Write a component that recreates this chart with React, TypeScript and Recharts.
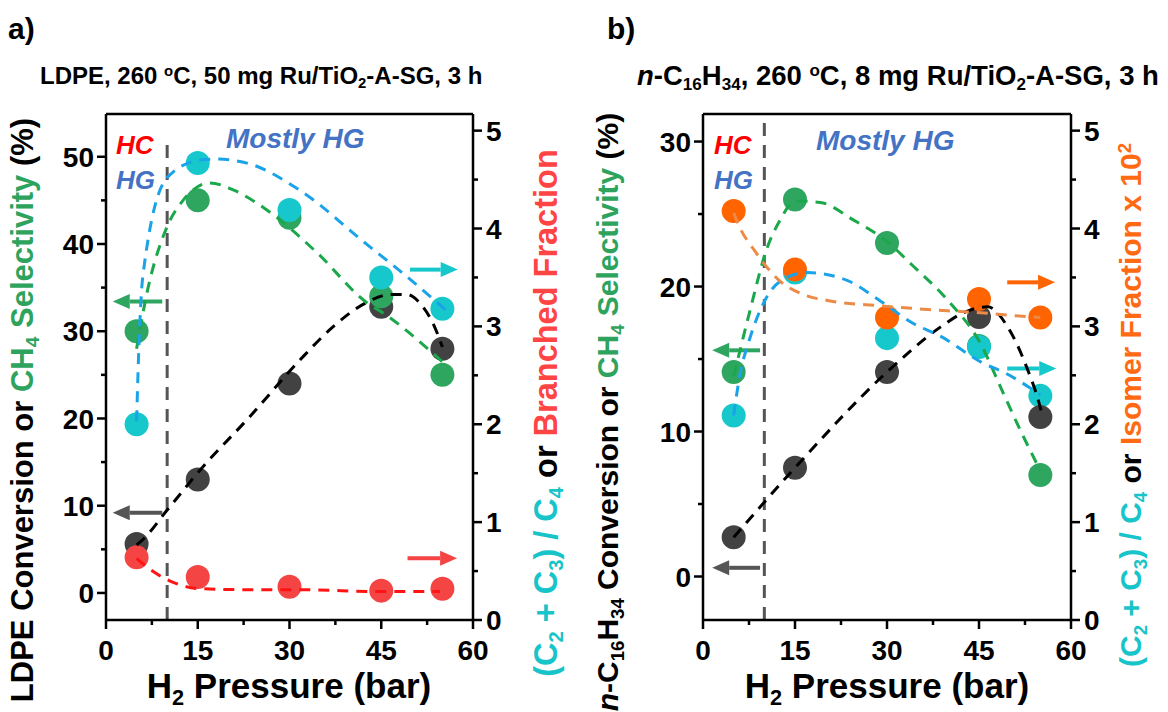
import React from 'react';
import { ComposedChart, XAxis, YAxis, Line, ReferenceLine } from 'recharts';

// ---------- shared ----------
const pressures = [5, 15, 30, 45, 55];
const xTicks = [0, 7.5, 15, 22.5, 30, 37.5, 45, 52.5, 60];
const rightTicks = [0, 0.5, 1, 1.5, 2, 2.5, 3, 3.5, 4, 4.5, 5];

// ---------- panel a (LDPE) ----------
const aConversion = [5.6, 13, 24, 32.8, 28];
const aCH4Selectivity = [30, 45, 43, 34, 25];
const aC2C3overC4 = [2.0, 4.67, 4.19, 3.5, 3.18];
const aBranchedFraction = [0.64, 0.44, 0.34, 0.3, 0.32];

const aConvFitX = [5, 6, 10, 15.4, 23.5, 31.7, 37.1, 42.6, 46.4, 49.2, 51.8, 53.4, 55];
const aConvFitY = [5.5, 6.1, 9.5, 14.1, 20.2, 26.7, 30.5, 33.3, 34.2, 34.2, 32.8, 31, 28.2];
const aCH4FitX = [5, 6.7, 10, 12.6, 17, 20.8, 26.3, 34.5, 42.6, 45.3, 53.4, 55];
const aCH4FitY = [28, 34.4, 42, 45, 47, 46.2, 43.9, 39, 33.3, 32.1, 27.5, 26.5];
const aC2FitX = [5, 5.5, 6, 10, 15.4, 18, 23.5, 31.7, 42.6, 48, 55.7];
const aC2FitY = [2.03, 2.99, 3.5, 4.52, 4.7, 4.71, 4.66, 4.39, 3.84, 3.57, 3.16];
const aBrFitX = [5, 7.6, 10.4, 15.4, 23.5, 31.7, 45.3, 54.6];
const aBrFitY = [0.63, 0.5, 0.4, 0.32, 0.31, 0.31, 0.29, 0.29];
const aLeftTicks = [0, 5, 10, 15, 20, 25, 30, 35, 40, 45, 50];

// ---------- panel b (n-C16H34) ----------
const bConversion = [2.7, 7.5, 14.1, 17.9, 11];
const bCH4Selectivity = [14.1, 26, 23, 15.9, 7];
const bC2C3overC4 = [2.09, 3.55, 2.88, 2.79, 2.29];
const bIsomerFraction = [4.18, 3.58, 3.09, 3.28, 3.09];

const bConvFitX = [5, 15, 30, 38.7, 42.5, 46.4, 49.7, 52.9, 54.5, 55.4];
const bConvFitY = [2.7, 7.5, 14.1, 17.2, 18.2, 18.6, 17.2, 14.3, 12.4, 11];
const bCH4FitX = [5, 7.7, 10.4, 12.6, 15, 19.1, 24.5, 30, 34.3, 39.8, 45.2, 48.9, 51.5, 55];
const bCH4FitY = [13.8, 18.4, 22.6, 24.6, 25.9, 25.8, 24.6, 23.1, 21.4, 19.1, 16.1, 12.7, 10.3, 7.3];
const bC2FitX = [5, 6, 7.5, 10.4, 13.7, 17, 23.5, 28.9, 34.3, 38.7, 45.5, 49.4, 55];
const bC2FitY = [2.09, 2.5, 2.85, 3.3, 3.5, 3.55, 3.47, 3.26, 3.03, 2.9, 2.63, 2.52, 2.3];
const bIsoFitX = [5, 5.5, 8.8, 12.6, 15.8, 20.7, 28.9, 39.8, 45.2, 50.6, 55];
const bIsoFitY = [4.16, 4.08, 3.74, 3.46, 3.34, 3.26, 3.21, 3.16, 3.14, 3.11, 3.09];
const bLeftTicks = [0, 5, 10, 15, 20, 25, 30];

// ---------- helpers ----------
const FONT = "'Liberation Sans', Arial, Helvetica, sans-serif";
const pts = (xs: number[], ys: number[]) => xs.map((x, i) => ({ x, y: ys[i] }));

const C = {
  dotBlack: '#424242',
  dotGreen: '#2fa660',
  dotCyan: '#16c8cc',
  dotRed: '#f44444',
  dotOrange: '#ff6400',
  fitCyan: '#1aa3e8',
  fitGreen: '#1aa84a',
  fitRed: '#ff1414',
  fitOrange: '#ec8a48',
  gray: '#555555',
  tGreen: '#2ea35e',
  tCyan: '#17c4c9',
  tRed: '#ff4444',
  tOrange: '#ff6a13',
  blue: '#4472c4',
};

const dotRenderer = (fill: string) => (p: any) => (
  <circle key={'d' + p.index} cx={p.cx} cy={p.cy} r={12} fill={fill} />
);

const arrowShape = (color: string) => (p: any) => {
  const { x1, y1, x2, y2 } = p;
  const dir = x2 > x1 ? 1 : -1;
  const head = 17;
  const half = 7.5;
  return (
    <g>
      <line x1={x1} y1={y1} x2={x2 - dir * head} y2={y2} stroke={color} strokeWidth={4} />
      <polygon
        points={`${x2},${y2} ${x2 - dir * head},${y2 - half} ${x2 - dir * head},${y2 + half}`}
        fill={color}
      />
    </g>
  );
};

const XTick = (p: any) => {
  const { x, y, payload } = p;
  const major = payload.value % 15 === 0;
  return (
    <g>
      <line x1={x} x2={x} y1={y} y2={y + (major ? 9 : 5)} stroke="#000" strokeWidth={2.5} />
      {major && (
        <text x={x} y={y + 40} textAnchor="middle" fontFamily={FONT} fontWeight="bold" fontSize={28} fill="#000">
          {payload.value}
        </text>
      )}
    </g>
  );
};

const LeftTick = (p: any) => {
  const { x, y, payload } = p;
  const major = payload.value % 10 === 0;
  return (
    <g>
      <line x1={x} x2={x - (major ? 9 : 5)} y1={y} y2={y} stroke="#000" strokeWidth={2.5} />
      {major && (
        <text x={x - 12} y={y} dy="0.36em" textAnchor="end" fontFamily={FONT} fontWeight="bold" fontSize={28} fill="#000">
          {payload.value}
        </text>
      )}
    </g>
  );
};

const RightTick = (p: any) => {
  const { x, y, payload } = p;
  const major = Number.isInteger(payload.value);
  return (
    <g>
      <line x1={x} x2={x + (major ? 9 : 5)} y1={y} y2={y} stroke="#000" strokeWidth={2.5} />
      {major && (
        <text x={x + 13} y={y} dy="0.36em" textAnchor="start" fontFamily={FONT} fontWeight="bold" fontSize={28} fill="#000">
          {payload.value}
        </text>
      )}
    </g>
  );
};

const axisLine = { stroke: '#000', strokeWidth: 2.5 };

const sub = (t: string) => (
  <span style={{ fontSize: '0.62em', position: 'relative', top: '0.3em' }}>{t}</span>
);
const sup = (t: string) => (
  <span style={{ fontSize: '0.62em', position: 'relative', top: '-0.55em' }}>{t}</span>
);

const abs = (left: number, top: number, extra: React.CSSProperties = {}): React.CSSProperties => ({
  position: 'absolute',
  left,
  top,
  whiteSpace: 'nowrap',
  fontFamily: FONT,
  fontWeight: 'bold',
  lineHeight: 1,
  ...extra,
});

const vtitle = (cx: number, cy: number, size: number): React.CSSProperties => ({
  position: 'absolute',
  left: cx,
  top: cy,
  transform: 'translate(-50%, -50%) rotate(-90deg)',
  whiteSpace: 'nowrap',
  fontFamily: FONT,
  fontWeight: 'bold',
  fontSize: size,
  lineHeight: 1,
  color: '#000',
});

// ---------- panel component ----------
type Series = { axis: string; data: { x: number; y: number }[]; color: string };
type PanelProps = {
  width: number;
  margin: { top: number; right: number; bottom: number; left: number };
  leftDomain: [number, number];
  leftTicks: number[];
  scatters: Series[];
  fits: Series[];
  vline: [number, number];
  arrows: { axis: string; from: [number, number]; to: [number, number]; color: string }[];
};

function Panel(props: PanelProps) {
  const { width, margin, leftDomain, leftTicks, scatters, fits, vline, arrows } = props;
  return (
    <ComposedChart width={width} height={712} margin={margin}>
      <XAxis
        type="number"
        dataKey="x"
        domain={[0, 60]}
        ticks={xTicks}
        interval={0}
        allowDataOverflow
        height={40}
        tickSize={0}
        tickMargin={0}
        tickLine={false}
        tick={XTick}
        axisLine={axisLine}
      />
      <YAxis
        yAxisId="left"
        orientation="left"
        type="number"
        dataKey="y"
        domain={leftDomain}
        ticks={leftTicks}
        interval={0}
        allowDataOverflow
        width={60}
        tickSize={0}
        tickMargin={0}
        tickLine={false}
        tick={LeftTick}
        axisLine={axisLine}
      />
      <YAxis
        yAxisId="right"
        orientation="right"
        type="number"
        dataKey="y"
        domain={[0, 5.17]}
        ticks={rightTicks}
        interval={0}
        allowDataOverflow
        width={60}
        tickSize={0}
        tickMargin={0}
        tickLine={false}
        tick={RightTick}
        axisLine={axisLine}
      />
      <ReferenceLine yAxisId="left" y={leftDomain[1]} stroke="#000" strokeWidth={2.5} ifOverflow="visible" />
      <ReferenceLine
        yAxisId="left"
        segment={[{ x: 10, y: vline[0] }, { x: 10, y: vline[1] }]}
        stroke={C.gray}
        strokeWidth={3}
        strokeDasharray="13 9"
        ifOverflow="visible"
      />
      {scatters.map((s, i) => (
        <Line
          key={'s' + i}
          yAxisId={s.axis}
          data={s.data}
          dataKey="y"
          stroke="none"
          dot={dotRenderer(s.color)}
          activeDot={false}
          isAnimationActive={false}
        />
      ))}
      {fits.map((f, i) => (
        <Line
          key={'f' + i}
          yAxisId={f.axis}
          data={f.data}
          dataKey="y"
          type="monotone"
          stroke={f.color}
          strokeWidth={3}
          strokeDasharray="11 8"
          dot={false}
          activeDot={false}
          isAnimationActive={false}
          zIndex={1500}
        />
      ))}
      {arrows.map((a, i) => (
        <ReferenceLine
          key={'a' + i}
          yAxisId={a.axis}
          segment={[{ x: a.from[0], y: a.from[1] }, { x: a.to[0], y: a.to[1] }]}
          stroke={a.color}
          shape={arrowShape(a.color)}
          ifOverflow="visible"
        />
      ))}
    </ComposedChart>
  );
}

export default function App() {
  return (
    <div style={{ position: 'absolute', left: 0, top: 0, width: 1168, height: 712, background: '#fff', overflow: 'hidden' }}>
      {/* Panel a */}
      <div style={{ position: 'absolute', left: 0, top: 0 }}>
        <Panel
          width={590}
          margin={{ top: 114, right: 57, bottom: 52, left: 46 }}
          leftDomain={[-3.1, 54.9]}
          leftTicks={aLeftTicks}
          vline={[-3.1, 51.6]}
          scatters={[
            { axis: 'left', data: pts(pressures, aConversion), color: C.dotBlack },
            { axis: 'left', data: pts(pressures, aCH4Selectivity), color: C.dotGreen },
            { axis: 'right', data: pts(pressures, aC2C3overC4), color: C.dotCyan },
            { axis: 'right', data: pts(pressures, aBranchedFraction), color: C.dotRed },
          ]}
          fits={[
            { axis: 'left', data: pts(aConvFitX, aConvFitY), color: '#000' },
            { axis: 'left', data: pts(aCH4FitX, aCH4FitY), color: C.fitGreen },
            { axis: 'right', data: pts(aC2FitX, aC2FitY), color: C.fitCyan },
            { axis: 'right', data: pts(aBrFitX, aBrFitY), color: C.fitRed },
          ]}
          arrows={[
            { axis: 'left', from: [9.2, 33.4], to: [1.1, 33.4], color: C.dotGreen },
            { axis: 'left', from: [9.2, 9.2], to: [1.1, 9.2], color: C.gray },
            { axis: 'right', from: [49.7, 3.58], to: [57.5, 3.58], color: C.dotCyan },
            { axis: 'right', from: [49.3, 0.63], to: [57.4, 0.63], color: C.dotRed },
          ]}
        />
      </div>
      {/* Panel b */}
      <div style={{ position: 'absolute', left: 590, top: 0 }}>
        <Panel
          width={578}
          margin={{ top: 114, right: 37, bottom: 52, left: 53 }}
          leftDomain={[-3.0, 31.9]}
          leftTicks={bLeftTicks}
          vline={[-3.0, 31.9]}
          scatters={[
            { axis: 'left', data: pts(pressures, bCH4Selectivity), color: C.dotGreen },
            { axis: 'right', data: pts(pressures, bC2C3overC4), color: C.dotCyan },
            { axis: 'left', data: pts(pressures, bConversion), color: C.dotBlack },
            { axis: 'right', data: pts(pressures, bIsomerFraction), color: C.dotOrange },
          ]}
          fits={[
            { axis: 'left', data: pts(bConvFitX, bConvFitY), color: '#000' },
            { axis: 'left', data: pts(bCH4FitX, bCH4FitY), color: C.fitGreen },
            { axis: 'right', data: pts(bC2FitX, bC2FitY), color: C.fitCyan },
            { axis: 'right', data: pts(bIsoFitX, bIsoFitY), color: C.fitOrange },
          ]}
          arrows={[
            { axis: 'left', from: [9.3, 15.6], to: [1.5, 15.6], color: C.dotGreen },
            { axis: 'left', from: [9.3, 0.6], to: [1.5, 0.6], color: C.gray },
            { axis: 'right', from: [49.6, 3.45], to: [57.4, 3.45], color: C.dotOrange },
            { axis: 'right', from: [49.6, 2.57], to: [57.6, 2.57], color: C.dotCyan },
          ]}
        />
      </div>

      {/* panel labels and titles */}
      <div style={abs(8, 14, { fontSize: 30 })}>a)</div>
      <div style={abs(607, 14, { fontSize: 30 })}>b)</div>
      <div style={abs(40, 64, { fontSize: 24 })}>
        LDPE, 260 {sup('o')}C, 50 mg Ru/TiO{sub('2')}-A-SG, 3 h
      </div>
      <div style={abs(637, 62, { fontSize: 27.5 })}>
        <i>n</i>-C{sub('16')}H{sub('34')}, 260 {sup('o')}C, 8 mg Ru/TiO{sub('2')}-A-SG, 3 h
      </div>

      {/* annotations panel a */}
      <div style={abs(116, 132, { fontSize: 26, fontStyle: 'italic', color: '#ff0000' })}>HC</div>
      <div style={abs(116, 167, { fontSize: 26, fontStyle: 'italic', color: C.blue })}>HG</div>
      <div style={abs(226, 125, { fontSize: 28, fontStyle: 'italic', color: C.blue })}>Mostly HG</div>
      {/* annotations panel b */}
      <div style={abs(714, 132, { fontSize: 26, fontStyle: 'italic', color: '#ff0000' })}>HC</div>
      <div style={abs(714, 167, { fontSize: 26, fontStyle: 'italic', color: C.blue })}>HG</div>
      <div style={abs(816, 127, { fontSize: 28, fontStyle: 'italic', color: C.blue })}>Mostly HG</div>

      {/* x titles */}
      <div style={abs(289, 668, { fontSize: 35, transform: 'translateX(-50%)' })}>H{sub('2')} Pressure (bar)</div>
      <div style={abs(887, 668, { fontSize: 35, transform: 'translateX(-50%)' })}>H{sub('2')} Pressure (bar)</div>

      {/* y titles */}
      <div style={vtitle(22, 410, 31)}>
        LDPE Conversion or <span style={{ color: C.tGreen }}>CH{sub('4')} Selectivity</span> (%)
      </div>
      <div style={vtitle(546, 413, 32.5)}>
        <span style={{ color: C.tCyan }}>(C{sub('2')} + C{sub('3')}) / C{sub('4')}</span> or{' '}
        <span style={{ color: C.tRed }}>Branched Fraction</span>
      </div>
      <div style={vtitle(608, 412, 30)}>
        <i>n</i>-C{sub('16')}H{sub('34')} Conversion or <span style={{ color: C.tGreen }}>CH{sub('4')} Selectivity</span> (%)
      </div>
      <div style={vtitle(1131, 405, 30)}>
        <span style={{ color: C.tCyan }}>(C{sub('2')} + C{sub('3')}) / C{sub('4')}</span> or{' '}
        <span style={{ color: C.tOrange }}>Isomer Fraction x 10{sup('2')}</span>
      </div>
    </div>
  );
}
